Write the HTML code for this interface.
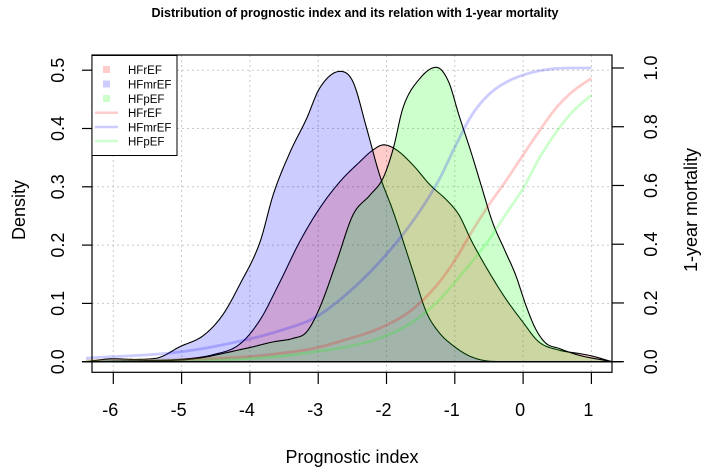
<!DOCTYPE html>
<html><head><meta charset="utf-8"><style>
body{margin:0;background:#fff}
svg text{font-family:"Liberation Sans",Arial,sans-serif}
</style></head><body>
<svg id="chart" width="709" height="469" viewBox="0 0 709 469">
<text x="355" y="17" text-anchor="middle" font-size="12.5" font-weight="bold">Distribution of prognostic index and its relation with 1-year mortality</text>
<g id="grid"></g>
<g id="marks"></g>
<g id="axes"></g>
<text x="352" y="463" text-anchor="middle" font-size="18">Prognostic index</text>
<text transform="translate(25,210) rotate(-90)" text-anchor="middle" font-size="18">Density</text>
<text transform="translate(697,210) rotate(-90)" text-anchor="middle" font-size="18">1-year mortality</text>
<g>
<rect x="92" y="55.5" width="85" height="100" fill="#fff" stroke="#000" stroke-width="1"/>
<rect x="103" y="66" width="7" height="7" fill="rgba(255,0,0,0.2)"/>
<rect x="103" y="80.5" width="7" height="7" fill="rgba(0,0,255,0.2)"/>
<rect x="103" y="95" width="7" height="7" fill="rgba(0,255,0,0.2)"/>
<line x1="95" x2="118" y1="112.7" y2="112.7" stroke="rgba(255,0,0,0.2)" stroke-width="2.5"/>
<line x1="95" x2="118" y1="127" y2="127" stroke="rgba(0,0,255,0.2)" stroke-width="2.5"/>
<line x1="95" x2="118" y1="141" y2="141" stroke="rgba(0,255,0,0.2)" stroke-width="2.5"/>
<g font-size="11.5">
<text x="128" y="74">HFrEF</text>
<text x="128" y="88.5">HFmrEF</text>
<text x="128" y="103">HFpEF</text>
<text x="128" y="117">HFrEF</text>
<text x="128" y="131.5">HFmrEF</text>
<text x="128" y="145.5">HFpEF</text>
</g></g>
</svg>
<script>
const xTicks=[-6,-5,-4,-3,-2,-1,0,1];
const yTicks=[0,0.1,0.2,0.3,0.4,0.5];
const yTickLabels=["0.0","0.1","0.2","0.3","0.4","0.5"];
const rTicks=[0,0.2,0.4,0.6,0.8,1.0];
const rTickLabels=["0.0","0.2","0.4","0.6","0.8","1.0"];
// densities
const redX=[-6.4,-6,-5.5,-5.02,-4.54,-4.15,-3.85,-3.56,-3.27,-2.98,-2.68,-2.39,-2.2,-2.04,-1.85,-1.61,-1.36,-1.1,-0.94,-0.75,-0.5,-0.26,-0.01,0.23,0.52,0.82,1.0,1.3];
const redY=[0,0.001,0.002,0.004,0.012,0.03,0.072,0.137,0.206,0.263,0.309,0.343,0.363,0.372,0.363,0.337,0.303,0.275,0.252,0.206,0.154,0.109,0.069,0.034,0.02,0.014,0.01,0];
const blueX=[-6.4,-6.0,-5.7,-5.37,-5.02,-4.68,-4.4,-4.15,-3.85,-3.66,-3.41,-3.17,-2.98,-2.68,-2.49,-2.29,-2.1,-1.9,-1.61,-1.42,-1.23,-1.04,-0.79,-0.5,-0.2,1.3];
const blueY=[0,0.005,0.004,0.006,0.026,0.045,0.08,0.132,0.206,0.286,0.36,0.417,0.469,0.498,0.48,0.40,0.32,0.257,0.154,0.086,0.05,0.029,0.01,0.001,0,0];
const greenX=[-6.4,-5,-4.05,-3.66,-3.37,-3.17,-2.98,-2.73,-2.49,-2.24,-2.05,-1.9,-1.76,-1.51,-1.27,-1.09,-0.94,-0.75,-0.6,-0.45,-0.26,-0.11,0.04,0.18,0.33,0.52,0.82,1.31];
const greenY=[0,0.003,0.023,0.034,0.04,0.051,0.092,0.172,0.252,0.286,0.315,0.366,0.435,0.486,0.505,0.48,0.423,0.355,0.297,0.24,0.189,0.149,0.097,0.057,0.032,0.023,0.011,0];
// 1-year mortality
const mortX=[-6.4,-5,-4.05,-3.5,-3.05,-2.6,-2.1,-1.61,-1.23,-1.0,-0.75,-0.5,-0.26,0,0.23,0.48,0.72,1.0];
const redP=[0.003,0.007,0.017,0.03,0.046,0.075,0.114,0.18,0.27,0.345,0.443,0.534,0.613,0.704,0.783,0.863,0.919,0.965];
const blueP=[0.012,0.034,0.075,0.11,0.15,0.227,0.34,0.48,0.62,0.73,0.84,0.91,0.95,0.976,0.99,0.998,1.0,1.0];
const greenP=[0.002,0.005,0.01,0.02,0.034,0.05,0.08,0.136,0.21,0.27,0.34,0.415,0.50,0.59,0.69,0.78,0.85,0.908];

const L=92,R=612,T=55,B=372.3;
const X=v=>113.3+68.3*(v+6);
const Y=d=>361.7-583*d;
const YR=p=>361.7-293.7*p;
const NS="http://www.w3.org/2000/svg";
function mk(tag,attrs,parent){const e=document.createElementNS(NS,tag);for(const k in attrs)e.setAttribute(k,attrs[k]);parent.appendChild(e);return e;}
function mono(xs,ys,n){const k=xs.length,d=[],m=[];
for(let i=0;i<k-1;i++)d.push((ys[i+1]-ys[i])/(xs[i+1]-xs[i]));
m[0]=d[0];m[k-1]=d[k-2];
for(let i=1;i<k-1;i++){m[i]=(d[i-1]*d[i]<=0)?0:(d[i-1]+d[i])/2;}
for(let i=0;i<k-1;i++){if(d[i]===0){m[i]=0;m[i+1]=0;continue;}const a=m[i]/d[i],b=m[i+1]/d[i],s=a*a+b*b;if(s>9){const t=3/Math.sqrt(s);m[i]=t*a*d[i];m[i+1]=t*b*d[i];}}
const out=[];for(let j=0;j<=n;j++){const x=xs[0]+(xs[k-1]-xs[0])*j/n;let i=0;while(i<k-2&&x>xs[i+1])i++;
const h=xs[i+1]-xs[i],t=(x-xs[i])/h,t2=t*t,t3=t2*t;
const y=(2*t3-3*t2+1)*ys[i]+(t3-2*t2+t)*h*m[i]+(-2*t3+3*t2)*ys[i+1]+(t3-t2)*h*m[i+1];out.push([x,y]);}return out;}
const grid=document.getElementById('grid'),marks=document.getElementById('marks'),axes=document.getElementById('axes');
xTicks.forEach(v=>{const g=mk('line',{x1:X(v),x2:X(v),y1:T,y2:B,stroke:'#c8c8c8','stroke-dasharray':'2,3'},grid);

});
yTicks.forEach(v=>{const g=mk('line',{x1:L,x2:R,y1:Y(v),y2:Y(v),stroke:'#c8c8c8','stroke-dasharray':'2,3'},grid);

});
function area(xs,ys,fill,name){const pts=mono(xs,ys,300).map(p=>X(p[0]).toFixed(2)+','+Y(Math.max(p[1],0)).toFixed(2));
const p=mk('path',{d:'M'+pts.join('L')+`L${X(xs[xs.length-1])},${Y(0)}L${X(xs[0])},${Y(0)}Z`,fill:fill,stroke:'#000','stroke-width':1.1,'stroke-linejoin':'round'},marks);

}
area(redX,redY,'rgba(255,0,0,0.2)','density-hfref');
area(blueX,blueY,'rgba(0,0,255,0.2)','density-hfmref');
area(greenX,greenY,'rgba(0,255,0,0.2)','density-hfpef');
function line(ps,col,name){const pts=mono(mortX,ps,200).map(p=>X(p[0]).toFixed(2)+','+YR(p[1]).toFixed(2));
const p=mk('path',{d:'M'+pts.join('L'),fill:'none',stroke:col,'stroke-width':2.8},marks);

}
line(redP,'rgba(255,0,0,0.2)','mortality-line-hfref');
line(blueP,'rgba(0,0,255,0.2)','mortality-line-hfmref');
line(greenP,'rgba(0,255,0,0.2)','mortality-line-hfpef');
const bl=mk('line',{x1:82,x2:622,y1:Y(0),y2:Y(0),stroke:'#000','stroke-width':1.3},axes);


const box=mk('rect',{x:L,y:T,width:R-L,height:B-T,fill:'none',stroke:'#000','stroke-width':1.2},axes);


xTicks.forEach(v=>{mk('line',{x1:X(v),x2:X(v),y1:B,y2:384,stroke:'#000','stroke-width':1.2},axes);
const t=mk('text',{x:X(v)-3,y:416,'text-anchor':'middle','font-size':18},axes);t.textContent=String(v);

});
yTicks.forEach((v,i)=>{mk('line',{x1:82,x2:L,y1:Y(v),y2:Y(v),stroke:'#000','stroke-width':1.2},axes);
const t=mk('text',{transform:`translate(64,${Y(v)}) rotate(-90)`,'text-anchor':'middle','font-size':18},axes);t.textContent=yTickLabels[i];

});
rTicks.forEach((v,i)=>{mk('line',{x1:R,x2:624,y1:YR(v),y2:YR(v),stroke:'#000','stroke-width':1.2},axes);
const t=mk('text',{transform:`translate(657,${YR(v)}) rotate(-90)`,'text-anchor':'middle','font-size':18},axes);t.textContent=rTickLabels[i];

});
</script>
</body></html>
